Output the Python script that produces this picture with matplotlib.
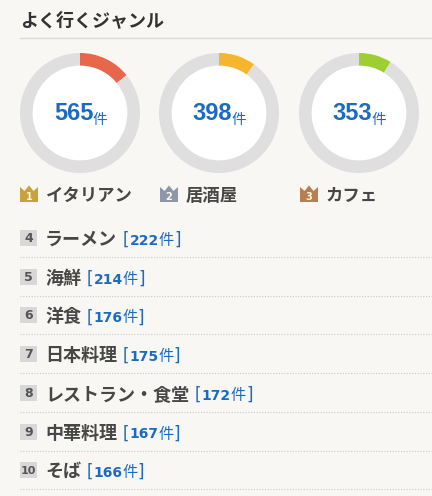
import matplotlib
matplotlib.use('Agg')
import matplotlib.pyplot as plt
from matplotlib.patches import Rectangle, Polygon, Circle

# ---- data ----
title = 'よく行くジャンル'
top_genres = ['イタリアン', '居酒屋', 'カフェ']
top_counts = [565, 398, 353]
total_visits = 4000
top_colors = ['#e8674c', '#f6b52e', '#9fce32']
crown_colors = ['#c8a23c', '#8e97a9', '#b97d52']
list_ranks = [4, 5, 6, 7, 8, 9, 10]
list_genres = ['ラーメン', '海鮮', '洋食', '日本料理', 'レストラン・食堂', '中華料理', 'そば']
list_counts = [222, 214, 176, 175, 172, 167, 166]
unit = '件'

BG = '#f8f7f4'
BLUE = '#1a6bc4'
DARK = '#474747'
JP = ['Noto Sans CJK JP', 'DejaVu Sans']

W, H = 432, 496
fig = plt.figure(figsize=(W / 100, H / 100), dpi=100, facecolor=BG)
ax = fig.add_axes([0, 0, 1, 1])
ax.set_xlim(0, W)
ax.set_ylim(H, 0)
ax.axis('off')
ax.set_facecolor(BG)
renderer = fig.canvas.get_renderer()


def seq(x, y, parts):
    for txt, kw in parts:
        t = ax.text(x, y, txt, ha='left', va='baseline', **kw)
        bb = t.get_window_extent(renderer)
        x += bb.width
    return x


# title
ax.text(20, 26, title, family=JP, fontsize=13, weight='bold', color='#333333',
        ha='left', va='baseline')
ax.plot([20, W], [38, 38], color='#dcdad6', lw=1)

# donuts
centers_x = [80, 219, 359]
cy, R = 113, 60
for i, (cx, val, col) in enumerate(zip(centers_x, top_counts, top_colors)):
    dax = fig.add_axes([(cx - R) / W, 1 - (cy + R) / H, 2 * R / W, 2 * R / H])
    dax.set_facecolor('none')
    dax.pie([val, total_visits - val], colors=[col, '#dfdfdf'], startangle=90,
            counterclock=False, radius=1.0,
            wedgeprops=dict(width=0.21, linewidth=0))
    dax.add_patch(Circle((0, 0), 0.79, color='white', zorder=0))
    dax.set_xlim(-1, 1)
    dax.set_ylim(-1, 1)
    dax.set_aspect('equal')
    dax.axis('off')
    dax.text(0.22, -0.12, str(val), ha='right', va='baseline', family='Liberation Sans',
             weight='bold', fontsize=17, color=BLUE, transform=dax.transData)
    dax.text(0.21, -0.18, unit, ha='left', va='baseline', family=JP,
             fontsize=10.5, color=BLUE, transform=dax.transData)

# top 3 labels with crowns
label_x = [20, 160, 300]
for i, (lx, name, cc) in enumerate(zip(label_x, top_genres, crown_colors)):
    x0, y0 = lx, 185
    pts = [(x0, y0 + 17), (x0, y0 + 2), (x0 + 4.5, y0 + 6), (x0 + 9, y0 + 0.5),
           (x0 + 13.5, y0 + 6), (x0 + 18, y0 + 2), (x0 + 18, y0 + 17)]
    ax.add_patch(Polygon(pts, closed=True, color=cc, lw=0))
    ax.text(x0 + 9, y0 + 11.5, str(i + 1), ha='center', va='center', fontsize=7,
            weight='bold', color='#fff8e8', family='DejaVu Sans')
    ax.text(lx + 26, 201, name, family=JP, fontsize=12.5, weight='bold', color=DARK,
            ha='left', va='baseline')

# ranking list
row0, step = 238, 38.7
for k, (rk, name, cnt) in enumerate(zip(list_ranks, list_genres, list_counts)):
    yc = row0 + k * step
    ax.add_patch(Rectangle((20, yc - 8), 17, 16, color='#d8d8d8', lw=0))
    ax.text(28.5, yc + 0.5, str(rk), ha='center', va='center', fontsize=9 if rk < 10 else 8,
            weight='bold', color='#555555', family='DejaVu Sans')
    x = seq(45, yc + 7, [(name, dict(family=JP, fontsize=13, weight='bold', color=DARK))])
    x += 6
    seq(x, yc + 7, [('[', dict(family='DejaVu Sans', fontsize=12, color=BLUE)),
                    (str(cnt), dict(family='DejaVu Sans', fontsize=10, weight='bold', color=BLUE)),
                    (unit, dict(family=JP, fontsize=11, color=BLUE)),
                    (']', dict(family='DejaVu Sans', fontsize=12, color=BLUE))])
    ax.plot([20, W], [yc + 19, yc + 19], color='#c8c8c8', lw=0.8, ls=(0, (1, 1.5)))

fig.savefig('out.png', dpi=100, facecolor=BG)
